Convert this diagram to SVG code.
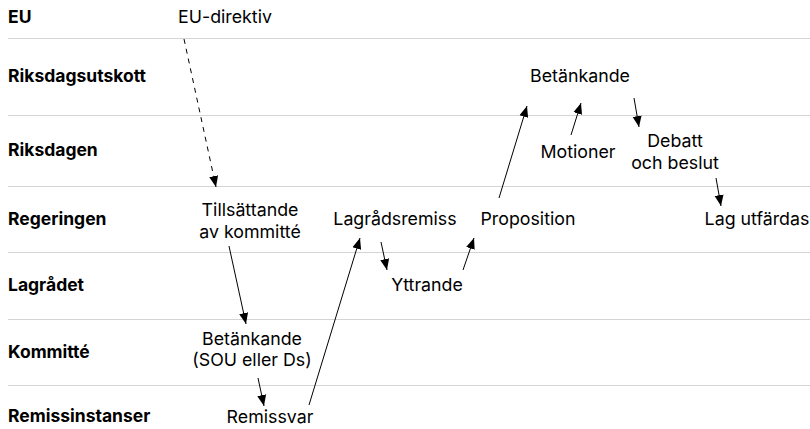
<svg xmlns="http://www.w3.org/2000/svg" width="810" height="429" viewBox="0 0 810 429">
<style>
.row{font-family:Inter,"Liberation Sans",sans-serif;font-size:17.5px;font-weight:700;fill:#000}
.node{font-family:Inter,"Liberation Sans",sans-serif;font-size:17.8px;fill:#000;text-anchor:middle}
.grid line{stroke:#d4d4d4;stroke-width:1}
.conn line{stroke:#000;stroke-width:1;marker-end:url(#ah)}
.dash{stroke-dasharray:5 5}
</style>
<defs>
<marker id="ah" markerUnits="userSpaceOnUse" markerWidth="12" markerHeight="12" viewBox="0 0 12 12" refX="11" refY="6" orient="auto">
<path d="M0,1.5 L11,6 L0,10.5 Z" fill="#000"/>
</marker>
</defs>
<rect width="810" height="429" fill="#fff"/>
<g class="grid">
<line x1="8" y1="38.5" x2="810" y2="38.5"/>
<line x1="8" y1="115.5" x2="810" y2="115.5"/>
<line x1="8" y1="186.5" x2="810" y2="186.5"/>
<line x1="8" y1="252.5" x2="810" y2="252.5"/>
<line x1="8" y1="319.5" x2="810" y2="319.5"/>
<line x1="8" y1="385.5" x2="810" y2="385.5"/>
</g>
<g id="rows">
<text class="row" x="8" y="23">EU</text>
<text class="row" x="8" y="82">Riksdagsutskott</text>
<text class="row" x="8" y="156">Riksdagen</text>
<text class="row" x="8" y="225">Regeringen</text>
<text class="row" x="8" y="291">Lagrådet</text>
<text class="row" x="8" y="358">Kommitté</text>
<text class="row" x="8" y="422">Remissinstanser</text>
</g>
<g id="n-eudirektiv"><text class="node" x="225" y="23">EU-direktiv</text></g>
<g id="n-tillsattande"><text class="node" x="250" y="216">Tillsättande</text><text class="node" x="250" y="238">av kommitté</text></g>
<g id="n-betankande-sou"><text class="node" x="252" y="345">Betänkande</text><text class="node" x="252" y="366">(SOU eller Ds)</text></g>
<g id="n-remissvar"><text class="node" x="270" y="423">Remissvar</text></g>
<g id="n-lagradsremiss"><text class="node" x="395" y="225">Lagrådsremiss</text></g>
<g id="n-yttrande"><text class="node" x="427" y="291">Yttrande</text></g>
<g id="n-proposition"><text class="node" x="528" y="225">Proposition</text></g>
<g id="n-betankande"><text class="node" x="580" y="82">Betänkande</text></g>
<g id="n-motioner"><text class="node" x="578" y="158">Motioner</text></g>
<g id="n-debatt"><text class="node" x="675" y="147">Debatt</text><text class="node" x="675" y="169">och beslut</text></g>
<g id="n-lag"><text class="node" x="757" y="225">Lag utfärdas</text></g>
<g class="conn" id="connectors">
<line class="dash" x1="184" y1="39" x2="216" y2="187"/>
<line x1="229" y1="246" x2="246" y2="324"/>
<line x1="258" y1="378" x2="264" y2="406"/>
<line x1="309" y1="405" x2="360" y2="238"/>
<line x1="381" y1="242" x2="387" y2="270"/>
<line x1="463" y1="270" x2="474" y2="238"/>
<line x1="499" y1="198" x2="527" y2="106"/>
<line x1="571" y1="135" x2="581" y2="103"/>
<line x1="634" y1="98" x2="639" y2="127"/>
<line x1="716" y1="178" x2="721" y2="206"/>
</g>
</svg>
